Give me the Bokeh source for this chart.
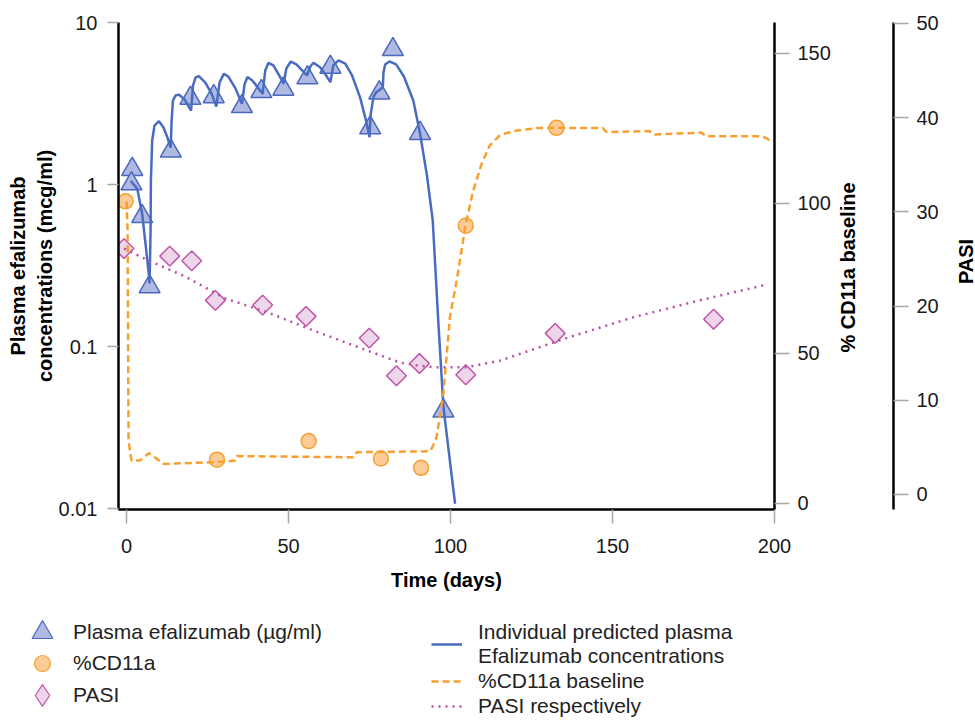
import math
from bokeh.plotting import figure
from bokeh.layouts import column, row
from bokeh.core.properties import value
from bokeh.models import (Range1d, LinearAxis, LinearScale, FixedTicker, NumeralTickFormatter,
                          Legend, LegendItem)
from bokeh.embed import file_html
from bokeh.resources import INLINE

FONT = "Liberation Sans"

# ---------------- data ----------------
# observed plasma efalizumab (ug/ml)
obs_day = [1.75, 1.5, 4.8, 7.1, 13.65, 19.7, 26.9, 35.6, 41.6, 48.4, 55.8, 62.9,
           75.2, 78.0, 82.2, 90.6, 97.8]
obs_conc = [1.24, 1.01, 0.635, 0.234, 1.61, 3.41, 3.49, 3.03, 3.75, 3.88, 4.56, 5.3,
            2.24, 3.68, 6.81, 2.07, 0.040]

# individual predicted plasma concentrations (traced)
pred_day = [1.3, 3.3, 4.8, 5.9, 6.9, 7.1, 7.4, 7.5, 7.9, 8.6, 10.0, 11.4, 12.6, 13.6,
            13.9, 14.3, 15.1, 16.1, 17.9, 19.9, 20.5, 21.3, 22.3, 24.3, 26.2, 27.7,
            28.7, 30.0, 31.4, 33.6, 35.6, 36.4, 37.3, 38.8, 40.7, 42.0, 42.8, 43.8,
            45.3, 47.1, 48.5, 49.3, 50.7, 52.4, 54.2, 55.7, 56.7, 57.7, 59.8, 61.6,
            62.9, 63.8, 65.4, 67.5, 69.6, 72.1, 73.9, 75.0, 75.3, 76.2, 77.0, 79.1,
            79.3, 79.8, 81.1, 83.2, 85.6, 88.5, 90.6, 92.7, 94.5, 96.2, 97.8, 101.4]
pred_conc = [1.05, 0.94, 0.66, 0.42, 0.274, 0.245, 0.52, 1.06, 1.87, 2.31, 2.46, 2.25,
             1.95, 1.69, 2.48, 3.30, 3.54, 3.59, 3.35, 2.86, 4.08, 4.58, 4.66, 4.26,
             3.65, 3.03, 4.26, 4.82, 4.64, 3.92, 3.15, 4.14, 4.61, 4.39, 3.92, 3.63,
             5.06, 5.64, 5.43, 4.71, 4.19, 5.2, 5.74, 5.51, 5.06, 4.71, 5.35, 5.64,
             5.27, 4.71, 4.28, 5.43, 5.83, 5.58, 4.71, 3.44, 2.48, 1.96, 2.67, 3.46,
             3.70, 3.99, 4.91, 5.51, 5.75, 5.51, 4.64, 3.30, 2.06, 1.14, 0.60, 0.145,
             0.0422, 0.0107]

# %CD11a observations
cd_day = [-0.3, 27.9, 56.2, 78.5, 90.9, 104.7, 132.7]
cd_val = [100.7, 14.6, 20.8, 15.0, 11.9, 92.6, 125.2]

# %CD11a baseline curve
cd_line_day = [0, 0.3, 0.6, 1.5, 4.1, 6.9, 11.5, 27.9, 33.6, 34.1, 70.0, 71.1, 93.7,
               94.6, 95.7, 97.8, 99.8, 101.9, 104.7, 107.0, 109.6, 112.1, 115.2, 119.3,
               126.5, 132.7, 147.0, 148.1, 161.4, 163.0, 177.4, 178.9, 196.3, 198.4, 200]
cd_line_val = [100.7, 91, 21, 14.3, 14.3, 16.8, 13.2, 13.8, 14.3, 15.8, 15.4, 17.1, 17.4,
               19.3, 22.1, 36.6, 62.1, 74.3, 93.2, 104.3, 113.2, 119.3, 122.7, 124.1,
               125.1, 125.2, 125.1, 123.8, 124.1, 123.0, 123.6, 122.4, 122.4, 121.2, 121.0]

# PASI observations
pasi_day = [-0.8, 13.3, 20.1, 27.4, 42.0, 55.4, 74.9, 83.3, 90.4, 104.7, 132.3, 181.2]
pasi_val = [26.1, 25.3, 24.8, 20.6, 20.1, 18.9, 16.6, 12.6, 13.9, 12.7, 17.1, 18.6]

# PASI curve
pasi_line_day = [-0.8, 6.9, 17.7, 30.5, 43.3, 57.7, 74.1, 84.4, 89.6, 94.7, 105, 115.2,
                 135.8, 156.3, 176.8, 197.9]
pasi_line_val = [26.1, 24.8, 23.2, 20.8, 19.35, 17.4, 15.3, 14.0, 13.7, 13.5, 13.5, 14.2,
                 16.6, 18.8, 20.6, 22.3]

x_ticks = [0, 50, 100, 150, 200]
conc_ticks = [0.01, 0.1, 1, 10]
cd_ticks = [0, 50, 100, 150]
pasi_ticks = [0, 10, 20, 30, 40, 50]

cd_title = "% CD11a baseline"
pasi_title = "PASI"

# ---------------- sizes ----------------
H_MAIN = 600
H_LEG = 120
W_MAIN = 834
W_SIDE1 = 107
W_SIDE2 = 34
TOP, BOTTOM = 22, 91


def style(ax, tick_out=13, standoff=9):
    ax.axis_line_color = "black"
    ax.axis_line_width = 2.5
    ax.major_tick_line_color = "#a8a8a8"
    ax.major_tick_line_width = 1.5
    ax.major_tick_in = 0
    ax.major_tick_out = tick_out
    ax.minor_tick_line_color = None
    ax.major_label_text_font = FONT
    ax.major_label_text_font_size = "20px"
    ax.major_label_text_color = "#1a1a1a"
    ax.major_label_standoff = standoff
    ax.axis_label_text_font = FONT
    ax.axis_label_text_font_size = "20px"
    ax.axis_label_text_font_style = "bold"
    ax.axis_label_text_color = "black"


def no_align(fig):
    try:
        fig.frame_align = False
    except Exception:
        pass


# ---------------- main figure ----------------
p = figure(width=W_MAIN, height=H_MAIN, x_range=Range1d(-2.5, 200),
           y_range=Range1d(0.00986, 10), y_axis_type="log",
           output_backend="svg", toolbar_location=None,
           min_border_left=118, min_border_right=60,
           min_border_top=TOP, min_border_bottom=BOTTOM)
p.extra_y_ranges = {"cd": Range1d(-2, 160.3), "pasi": Range1d(-1.6, 50.1)}
p.extra_y_scales = {"cd": LinearScale(), "pasi": LinearScale()}
p.outline_line_color = None
p.grid.visible = False

xa = p.xaxis[0]
style(xa, 14, 15)
xa.ticker = FixedTicker(ticks=x_ticks)
xa.axis_label = "Time (days)"
xa.axis_label_standoff = 13

ya = p.yaxis[0]
style(ya, 11, 10)
ya.ticker = FixedTicker(ticks=conc_ticks)
ya.formatter = NumeralTickFormatter(format="0.[00]")
ya.axis_label = "Plasma efalizumab\nconcentrations (mcg/ml)"
ya.axis_label_standoff = 0

cd_axis = LinearAxis(y_range_name="cd", ticker=FixedTicker(ticks=cd_ticks))
style(cd_axis, 15, 8)
cd_axis.axis_label_standoff = 0
p.add_layout(cd_axis, "right")

TRI = dict(marker="triangle", size=21, fill_color="#b0b9e2", line_color="#4a68bd", line_width=1.5)
CIRC = dict(marker="circle", size=15, fill_color="#fdcb95", line_color="#f6a033", line_width=1.5)
DIA = dict(marker="square", angle=math.pi / 4, size=14, fill_color="#eed6ea",
           line_color="#c157a8", line_width=1.5)
PRED = dict(line_color="#4a6cc0", line_width=2.5)
CDL = dict(line_color="#f7a030", line_width=2.5, line_dash="7 4")
PASL = dict(line_color="#bb4fa5", line_width=2.5, line_dash="2 5")

p.scatter(obs_day, obs_conc, **TRI)
p.scatter(cd_day, cd_val, y_range_name="cd", **CIRC)
p.scatter(pasi_day, pasi_val, y_range_name="pasi", **DIA)
p.line(pred_day, pred_conc, **PRED)
p.line(cd_line_day, cd_line_val, y_range_name="cd", **CDL)
p.line(pasi_line_day, pasi_line_val, y_range_name="pasi", **PASL)

# ---------------- side figure 1: CD11a title + PASI axis ----------------
s1 = figure(width=W_SIDE1, height=H_MAIN, x_range=Range1d(0, W_SIDE1 - 47),
            y_range=Range1d(-1.6, 50.1), y_axis_location="right", x_axis_location=None,
            output_backend="svg", toolbar_location=None,
            min_border_left=0, min_border_right=47,
            min_border_top=TOP, min_border_bottom=BOTTOM)
no_align(s1)
s1.outline_line_color = None
s1.grid.visible = False
s1.extra_y_ranges = {"px": Range1d(0, H_MAIN - TOP - BOTTOM)}
pa = s1.yaxis[0]
style(pa, 15, 8)
pa.ticker = FixedTicker(ticks=pasi_ticks)
s1.text(x=[14], y=[242], text=[cd_title], y_range_name="px", angle=math.pi / 2,
        text_align="center", text_baseline="middle", text_font=value(FONT),
        text_font_size="20px", text_font_style="bold", text_color="black")

# ---------------- side figure 2: PASI title ----------------
s2 = figure(width=W_SIDE2, height=H_MAIN, x_range=Range1d(0, W_SIDE2),
            y_range=Range1d(0, H_MAIN), x_axis_location=None, y_axis_location=None,
            output_backend="svg", toolbar_location=None,
            min_border=0, min_border_left=0, min_border_right=0,
            min_border_top=0, min_border_bottom=0)
no_align(s2)
s2.outline_line_color = None
s2.grid.visible = False
s2.text(x=[24], y=[H_MAIN - 261], text=[pasi_title], angle=math.pi / 2,
        text_align="center", text_baseline="middle", text_font=value(FONT),
        text_font_size="20px", text_font_style="bold", text_color="black")

# ---------------- legend panel ----------------
lf = figure(width=W_MAIN + W_SIDE1 + W_SIDE2, height=H_LEG,
            x_range=Range1d(1e6, 1e6 + 1), y_range=Range1d(1e6, 1e6 + 1),
            output_backend="svg", toolbar_location=None,
            x_axis_location=None, y_axis_location=None,
            min_border=0, min_border_left=0, min_border_right=0,
            min_border_top=0, min_border_bottom=0)
no_align(lf)
lf.outline_line_color = None
lf.grid.visible = False

# legend proxies (same data, outside the visible window of this panel)
TRI_L = dict(TRI, line_width=1.2)
CIRC_L = dict(CIRC, line_width=1.2)
DIA_L = dict(marker="diamond", fill_color="#eed6ea", line_color="#c157a8", line_width=1.2)
l_tri = lf.scatter(obs_day, obs_conc, **TRI_L)
l_circ = lf.scatter(cd_day, cd_val, **CIRC_L)
l_dia = lf.scatter(pasi_day, pasi_val, **DIA_L)
l_pred = lf.line(pred_day, pred_conc, **PRED)
l_cdl = lf.line(cd_line_day, cd_line_val, **CDL)
l_pasl = lf.line(pasi_line_day, pasi_line_val, **PASL)


def leg_style(lg):
    lg.border_line_color = None
    lg.background_fill_alpha = 0
    lg.padding = 0
    lg.margin = 0
    lg.label_text_font = FONT
    lg.label_text_font_size = "21px"
    lg.label_text_color = "#222222"
    lg.label_height = 24


def one_item(label, rend, box, cx, cy, text_x):
    # marker symbol size in a legend is 0.4 * box
    lg = Legend(items=[LegendItem(label=label, renderers=[rend], index=0)],
                location=(cx - box // 2, (H_LEG - cy) - box // 2))
    leg_style(lg)
    lg.glyph_width = box
    lg.glyph_height = box
    lg.label_standoff = text_x - (cx - box // 2) - box
    lf.add_layout(lg, "center")


one_item("Plasma efalizumab (µg/ml)", l_tri, 52, 42, 32, 73)
one_item("%CD11a", l_circ, 40, 42, 63, 73)
one_item("PASI", l_dia, 54, 42, 95, 73)

leg2 = Legend(items=[LegendItem(label="Individual predicted plasma\nEfalizumab concentrations",
                                renderers=[l_pred]),
                     LegendItem(label="%CD11a baseline", renderers=[l_cdl]),
                     LegendItem(label="PASI respectively", renderers=[l_pasl])],
              location=(431, 2))
leg_style(leg2)
leg2.label_text_line_height = 1.25
leg2.glyph_width = 31
leg2.glyph_height = 24
leg2.label_standoff = 16
leg2.spacing = 1
lf.add_layout(leg2, "center")

layout = column(row(p, s1, s2, spacing=0), lf, spacing=0)
open("out.html", "w").write(file_html(layout, INLINE))
